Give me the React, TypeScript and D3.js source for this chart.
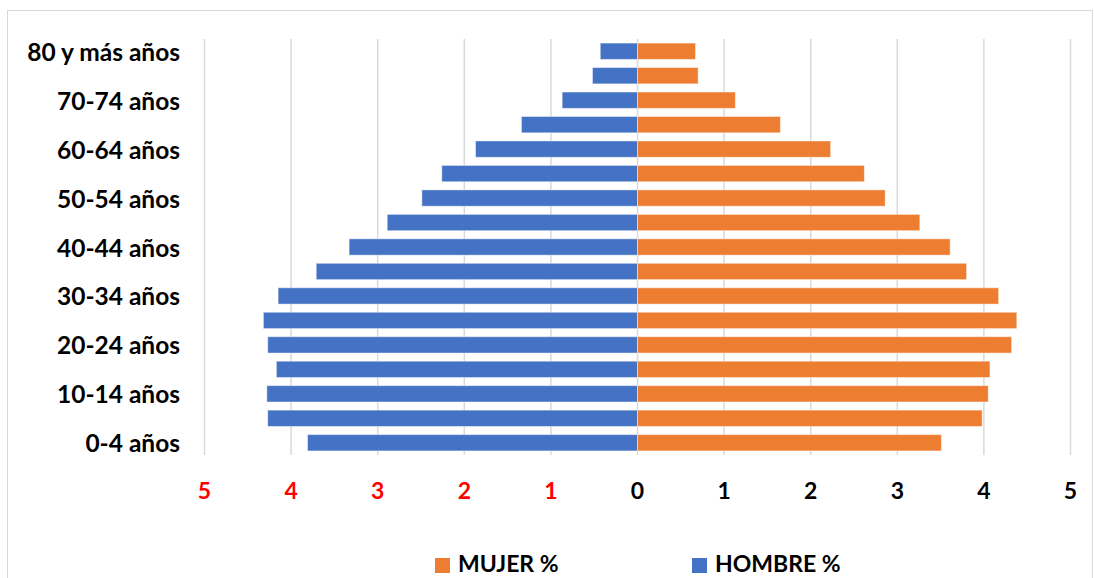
import React from "react";
import * as d3 from "d3";

const categories = [
  "0-4 años", "5-9 años", "10-14 años", "15-19 años", "20-24 años", "25-29 años",
  "30-34 años", "35-39 años", "40-44 años", "45-49 años", "50-54 años", "55-59 años",
  "60-64 años", "65-69 años", "70-74 años", "75-79 años", "80 y más años",
];
const hombre = [3.81, 4.27, 4.28, 4.17, 4.27, 4.32, 4.15, 3.71, 3.33, 2.89, 2.49, 2.26, 1.87, 1.34, 0.87, 0.52, 0.43];
const mujer = [3.51, 3.98, 4.05, 4.07, 4.32, 4.38, 4.17, 3.80, 3.61, 3.26, 2.86, 2.62, 2.23, 1.65, 1.13, 0.70, 0.67];
const xTicks = [-5, -4, -3, -2, -1, 0, 1, 2, 3, 4, 5];
const shownLabels = ["80 y más años", "70-74 años", "60-64 años", "50-54 años", "40-44 años", "30-34 años", "20-24 años", "10-14 años", "0-4 años"];

const W = 1094;
const H = 578;
const FONT = "Lato, 'Open Sans', sans-serif";
const BLUE = "#4472C4";
const ORANGE = "#ED7D31";
const GRID = "#D9D9D9";

export default function App() {
  const x = d3.scaleLinear().domain([-5, 5]).range([204.5, 1070.5]);
  const y = d3
    .scaleBand<string>()
    .domain([...categories].reverse())
    .range([39, 455])
    .paddingInner(0.333)
    .paddingOuter(0.1667);
  const bw = y.bandwidth();

  return (
    <svg
      width={W}
      height={H}
      style={{ position: "absolute", left: 0, top: 0, display: "block", background: "#fff" }}
      fontFamily={FONT}
    >
      <rect x={7.5} y={10.5} width={1085} height={600} fill="#fff" stroke={GRID} strokeWidth={1} />
      {xTicks.map((t) => (
        <line key={"g" + t} x1={x(t)} x2={x(t)} y1={39} y2={455} stroke={GRID} strokeWidth={1.5} />
      ))}
      {categories.map((c, i) => (
        <g key={c}>
          <rect
            x={x(-hombre[i])}
            y={y(c)!}
            width={x(0) - x(-hombre[i])}
            height={bw}
            fill={BLUE}
            stroke="#fff"
            strokeOpacity={0.45}
            strokeWidth={1}
          />
          <rect
            x={x(0)}
            y={y(c)!}
            width={x(mujer[i]) - x(0)}
            height={bw}
            fill={ORANGE}
            stroke="#fff"
            strokeOpacity={0.45}
            strokeWidth={1}
          />
        </g>
      ))}
      {shownLabels.map((l) => (
        <text
          key={l}
          x={180}
          y={y(l)! + bw / 2}
          textAnchor="end"
          dominantBaseline="central"
          fontSize={24.5}
          fontWeight="bold"
          fill="#000"
        >
          {l}
        </text>
      ))}
      {xTicks.map((t) => (
        <text
          key={"t" + t}
          x={x(t)}
          y={490}
          textAnchor="middle"
          dominantBaseline="central"
          fontSize={23}
          fontWeight="bold"
          fill={t < 0 ? "#FF0000" : "#000"}
        >
          {Math.abs(t)}
        </text>
      ))}
      <rect x={435} y={558} width={15} height={15} fill={ORANGE} />
      <text x={458} y={572} fontSize={23} fontWeight="bold" fill="#000">MUJER %</text>
      <rect x={692} y={558} width={15} height={15} fill={BLUE} />
      <text x={715} y={572} fontSize={23} fontWeight="bold" fill="#000">HOMBRE %</text>
    </svg>
  );
}
